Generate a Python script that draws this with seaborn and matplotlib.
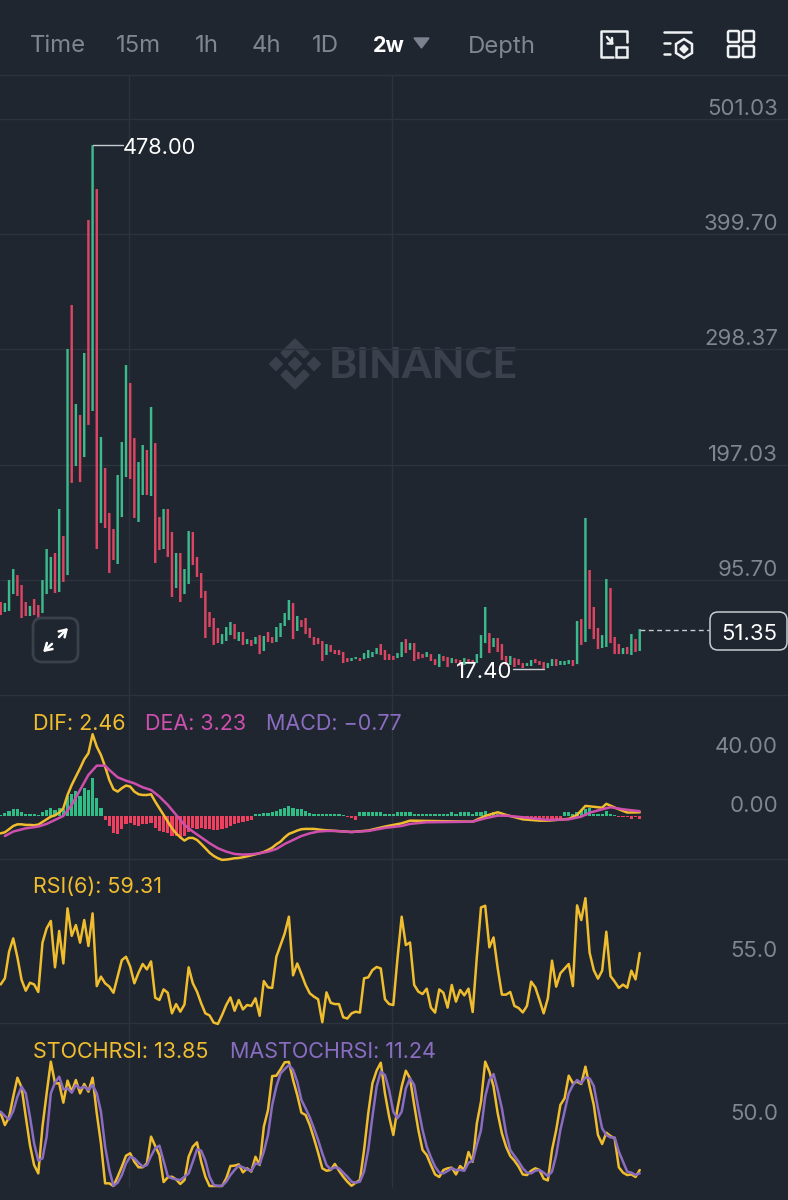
import pandas as pd
import matplotlib.pyplot as plt
import seaborn as sns
from matplotlib.patches import FancyBboxPatch, Polygon, Rectangle

# Candles: top and bottom of each stick
candle_high = [76.2, 75.3, 95.5, 105.2, 99.9, 91.1, 76.2, 72.7, 78.8, 73.5,
               95.5, 122.8, 115.8, 119.3, 158.0, 134.2, 298.7, 337.4, 250.3, 240.7,
               295.2, 412.2, 478.0, 439.4, 221.3, 194.0, 154.5, 140.4, 187.9, 216.9,
               284.6, 268.8, 220.4, 199.3, 214.3, 209.9, 247.7, 216.0, 150.9, 158.0,
               158.0, 137.8, 119.3, 119.3, 105.2, 138.6, 137.8, 115.8, 101.7, 85.9,
               67.4, 62.1, 53.3, 48.0, 54.2, 58.6, 56.8, 49.8, 49.8, 43.6,
               42.8, 45.4, 47.1, 46.3, 49.8, 45.4, 54.2, 57.7, 66.5, 78.0,
               75.3, 63.9, 60.3, 62.1, 53.3, 45.4, 44.5, 41.9, 39.2, 38.4,
               34.0, 34.0, 32.2, 26.9, 26.9, 27.8, 26.9, 31.3, 34.0, 32.2,
               35.7, 39.2, 34.0, 30.4, 28.7, 31.3, 41.0, 43.6, 40.1, 40.1,
               32.2, 30.4, 32.2, 30.4, 26.0, 30.4, 28.7, 27.8, 26.9, 26.0,
               25.2, 26.9, 26.0, 25.2, 30.4, 47.1, 71.8, 48.9, 44.5, 44.5,
               39.2, 28.7, 28.7, 26.9, 26.0, 22.5, 22.5, 25.2, 26.0, 24.3,
               23.4, 22.5, 26.0, 26.0, 24.3, 24.3, 25.2, 25.2, 59.5, 61.2,
               150.1, 104.3, 71.8, 53.3, 47.1, 96.4, 88.5, 45.4, 39.2, 35.7,
               36.6, 48.0, 43.6, 52.4]
candle_low = [64.7, 67.4, 68.3, 83.2, 81.5, 62.1, 63.9, 63.9, 64.7, 62.1,
              66.5, 83.2, 87.6, 84.1, 85.0, 93.8, 99.9, 180.9, 195.8, 181.7,
              203.7, 231.9, 244.2, 122.8, 145.7, 141.3, 101.7, 113.1, 109.6, 150.9,
              186.1, 184.4, 150.1, 146.6, 170.3, 170.3, 169.4, 110.5, 121.9, 122.8,
              115.8, 80.6, 88.5, 76.2, 83.2, 92.0, 108.7, 98.2, 79.7, 44.5,
              54.2, 38.4, 40.1, 39.2, 41.9, 47.1, 43.6, 41.9, 38.4, 39.2,
              37.5, 39.2, 30.4, 33.1, 41.0, 40.1, 41.0, 45.4, 55.1, 60.3,
              43.6, 50.7, 54.2, 48.0, 44.5, 38.4, 39.2, 24.3, 29.6, 32.2,
              30.4, 29.6, 22.5, 23.4, 24.3, 26.0, 24.3, 26.0, 26.9, 27.8,
              30.4, 29.6, 25.2, 25.2, 25.2, 26.9, 27.8, 31.3, 34.0, 24.3,
              26.0, 26.9, 27.8, 24.3, 20.8, 19.0, 24.3, 19.0, 22.5, 22.5,
              19.9, 20.8, 22.5, 22.5, 22.5, 26.9, 40.1, 31.3, 36.6, 32.2,
              25.2, 20.8, 20.8, 19.0, 20.8, 18.1, 19.9, 19.9, 22.5, 20.8,
              17.4, 18.1, 19.9, 19.9, 20.8, 20.8, 21.6, 19.9, 21.6, 38.4,
              41.0, 52.4, 43.6, 34.8, 35.7, 36.6, 40.1, 30.4, 30.4, 30.4,
              30.4, 29.6, 32.2, 33.1]
candle_dir = ("rgggrrrgrr" "gggrgrgrgr" "grgrgrrrgg" "grrggrgrrg" "rrgrggrrrr"
              "rrrgggrgrg" "rgrgrrgggg" "rgrrrrrrgr" "rrrrggrggg" "grrrrggrgr"
              "rrgrrgrrgr" "rgrrgggrgr" "rrgrrrggrr" "rggrgggrgr" "grrrggrrrg"
              "rgrg")
price_ticks = [501.03, 399.70, 298.37, 197.03, 95.70]
price_labels = ["501.03", "399.70", "298.37", "197.03", "95.70"]

# MACD histogram, one bar per candle
macd_hist = [0.6, 1.8, 3.4, 4.5, 4.5, 2.7, 1.1, 1.1, 1.1, 0.7,
             2.7, 4.3, 5.2, 3.8, 5.6, 4.5, 13.6, 14.7, 17.0, 13.6,
             19.2, 17.4, 26.0, 12.0, 5.6, -2.7, -6.8, -11.8, -12.4, -9.0,
             -5.6, -4.5, -6.0, -6.8, -5.6, -5.2, -4.5, -7.9, -10.2, -10.6,
             -11.3, -13.6, -13.6, -14.2, -13.6, -10.6, -8.4, -9.0, -7.9, -9.0,
             -9.0, -9.7, -9.7, -9.0, -7.9, -6.8, -5.6, -4.5, -3.8, -3.4,
             -2.9, 1.1, 1.6, 1.8, 2.3, 2.7, 3.4, 4.5, 5.6, 6.8,
             5.6, 4.5, 4.5, 3.4, 2.3, 1.1, 1.0, 1.0, 1.0, 1.0,
             1.0, 1.0, 0.8, -1.0, -1.4, -2.7, 2.6, 2.6, 2.6, 2.6,
             2.6, 2.6, 1.0, 1.0, 1.0, 2.4, 2.8, 2.8, 2.8, 1.0,
             1.0, 1.0, 1.0, 1.0, 1.0, 1.0, 1.0, 1.0, 2.4, 1.0,
             2.4, 2.4, 2.4, 1.0, 2.4, 2.4, 3.2, 1.0, 2.8, 1.0,
             0.8, -0.6, -0.6, -0.6, -0.6, -0.6, -0.6, -2.6, -3.0, -3.0,
             -1.4, -3.0, -3.0, -3.0, -3.0, 2.4, 2.4, 1.0, 2.8, 3.8,
             4.6, 5.2, 1.6, 1.6, 1.6, 3.2, 1.0, 0.6, -1.0, -1.0,
             -1.0, -2.2, -1.0, -2.2]

dif_idx = list(range(0, 74)) + [75, 77, 84, 88, 92, 96, 98, 113, 116, 119, 121, 125, 129, 131,
                                136, 138, 140, 144, 145, 148, 150, 153]
dif_val = [-11.8, -11.1, -9.0, -6.8, -5.7, -5.7, -6.1, -6.1, -6.3, -5.9,
           -4.1, -2.3, -0.5, 0.4, 2.3, 5.2, 14.2, 21.0, 26.7, 32.3,
           38.4, 42.5, 55.4, 47.0, 41.3, 33.4, 24.4, 18.1, 16.5, 18.8,
           20.6, 19.9, 16.5, 14.7, 14.2, 14.2, 14.7, 9.7, 5.2, 0.7,
           -3.8, -8.4, -11.8, -14.5, -16.7, -14.9, -14.9, -16.3, -19.0, -21.9,
           -24.9, -27.1, -28.7, -29.8, -29.6, -29.2, -28.7, -28.5, -28.0, -27.4,
           -26.7, -26.0, -25.3, -24.4, -23.1, -21.5, -19.2, -17.4, -14.5, -12.2,
           -11.1, -9.9, -9.0, -8.8, -8.8, -9.5, -10.9, -9.9, -7.2, -5.0,
           -3.2, -3.9, 0.0, 2.5, 0.7, -2.3, -3.2, -3.2,
           -2.0, 0.7, 6.8, 5.6, 8.2, 4.5, 2.3, 2.46]
dea_idx = [1, 3, 6, 9, 11, 13, 15, 17, 19, 21, 23, 25, 26, 28, 30, 32, 34, 36, 38, 40,
           42, 44, 46, 48, 50, 52, 54, 56, 58, 60, 62, 64, 66, 68, 70, 72, 74, 76, 78, 80,
           84, 88, 92, 96, 98, 102, 113, 116, 119, 121, 125, 131, 136, 139, 141, 144, 146, 149, 153]
dea_val = [-13.6, -10.6, -8.4, -7.2, -5.4, -2.7, 0.0, 7.5, 17.6, 27.8,
           34.1, 34.1, 31.2, 26.2, 23.9, 22.1, 19.4, 17.6, 13.1, 7.5,
           0.7, -6.1, -10.6, -14.5, -18.5, -21.9, -24.2, -25.8, -26.2, -26.0,
           -25.3, -24.2, -22.4, -19.0, -16.3, -13.6, -11.8, -10.6, -10.2, -10.2,
           -10.9, -10.2, -8.1, -6.8, -5.4, -4.3, -3.9, -1.6, 0.2, 0.2,
           -0.9, -2.7, -2.3, -0.5, 2.2, 4.5, 5.9, 4.5, 3.23]

rsi_val = [42.4, 45.7, 60.0, 67.2, 57.0, 44.8, 39.0, 43.3, 42.4, 38.3,
           64.9, 72.6, 76.6, 51.6, 71.2, 53.7, 83.4, 68.6, 74.4, 64.9,
           77.1, 63.1, 80.7, 41.5, 46.6, 43.0, 41.2, 37.9, 46.6, 55.5,
           57.3, 52.0, 43.0, 48.7, 53.4, 50.5, 54.8, 35.2, 34.0, 39.7,
           37.9, 26.8, 31.8, 27.7, 31.6, 51.6, 43.0, 38.5, 32.2, 26.8,
           25.7, 21.8, 21.1, 25.9, 31.3, 35.4, 28.2, 34.0, 28.9, 31.3,
           30.8, 34.9, 25.5, 44.2, 40.8, 40.5, 57.3, 63.6, 69.9, 78.9,
           47.3, 53.7, 48.0, 42.1, 37.6, 35.8, 34.4, 22.0, 38.1, 32.5,
           31.8, 31.8, 24.7, 24.0, 26.8, 27.7, 27.2, 45.7, 46.2, 50.1,
           51.8, 51.0, 34.4, 31.8, 31.3, 56.4, 78.9, 63.6, 65.0, 42.1,
           38.5, 37.2, 40.1, 29.9, 27.2, 39.7, 37.9, 29.9, 42.1, 33.1,
           39.4, 36.5, 40.1, 27.5, 57.3, 83.9, 84.8, 62.4, 67.7, 51.0,
           36.9, 36.9, 38.3, 30.8, 29.7, 27.3, 30.8, 43.9, 40.8, 34.0,
           26.8, 34.9, 55.2, 41.2, 48.4, 50.9, 53.4, 41.5, 85.0, 77.1,
           88.9, 59.5, 50.1, 45.5, 49.8, 70.8, 46.9, 43.9, 40.5, 42.3,
           40.6, 49.8, 45.1, 59.31]

stoch_val = [58.4, 49.2, 55.3, 71.5, 86.4, 78.8, 55.8, 33.5, 17.8, 11.2,
             47.9, 74.1, 99.0, 82.0, 82.0, 66.8, 84.1, 75.4, 84.6, 74.1,
             81.5, 75.4, 86.4, 58.4, 34.8, 3.4, 3.4, 1.3, 8.6, 16.5,
             25.1, 27.0, 20.4, 16.0, 16.0, 19.1, 40.1, 32.7, 25.6, 4.4,
             8.1, 8.6, 6.5, 2.9, 6.0, 24.3, 32.2, 35.6, 20.4, 8.6,
             1.3, 1.3, 1.3, 1.3, 7.3, 17.0, 17.3, 18.3, 12.0, 15.2,
             12.6, 24.3, 17.8, 47.9, 61.0, 87.7, 88.0, 93.0, 98.5, 98.8,
             84.6, 72.8, 58.9, 57.1, 49.2, 38.7, 27.5, 15.2, 13.3, 13.9,
             18.6, 13.3, 8.6, 4.7, 1.5, 3.9, 6.0, 29.6, 58.4, 82.0,
             91.9, 98.2, 74.1, 55.8, 41.4, 62.3, 79.4, 91.9, 85.9, 65.0,
             45.3, 29.6, 25.6, 17.8, 10.4, 8.4, 13.9, 15.2, 15.7, 10.4,
             17.0, 13.9, 28.0, 20.4, 50.5, 67.6, 99.0, 91.2, 79.4, 58.4,
             42.7, 32.2, 24.9, 21.2, 16.5, 10.4, 9.9, 13.3, 15.2, 13.9,
             7.0, 5.7, 29.6, 45.3, 65.0, 70.2, 88.0, 82.0, 83.3, 81.5,
             95.1, 79.4, 65.0, 41.4, 34.3, 43.2, 40.6, 38.7, 16.0, 11.8,
             9.9, 10.4, 8.4, 13.85]
mastoch_val = [59.7, 56.3, 53.7, 60.2, 71.5, 79.4, 74.1, 55.8, 34.8, 21.2,
               23.0, 40.1, 74.1, 82.5, 87.2, 77.3, 78.0, 74.6, 80.7, 78.0,
               79.4, 76.7, 80.7, 74.1, 59.7, 32.2, 13.9, 1.5, 3.9, 9.9,
               19.1, 24.3, 23.0, 19.6, 16.5, 17.8, 24.9, 30.9, 33.0, 21.2,
               9.1, 7.3, 6.5, 6.0, 8.6, 11.2, 20.4, 30.1, 29.1, 21.2,
               8.6, 2.1, 1.3, 1.5, 4.7, 9.9, 13.9, 17.3, 16.0, 14.4,
               13.1, 19.1, 18.3, 28.3, 41.4, 65.0, 79.4, 89.8, 93.2, 96.4,
               92.5, 83.3, 68.9, 62.3, 55.3, 46.6, 37.4, 27.0, 17.8, 14.4,
               16.0, 15.2, 11.8, 8.6, 4.7, 3.9, 4.7, 12.6, 29.6, 55.8,
               79.4, 91.2, 88.5, 76.7, 59.7, 54.5, 59.7, 78.0, 85.9, 80.7,
               62.3, 45.3, 32.2, 23.8, 16.5, 11.8, 11.2, 13.1, 15.2, 13.9,
               13.9, 13.3, 19.6, 21.2, 33.5, 45.3, 71.5, 84.6, 89.3, 76.7,
               62.3, 42.7, 29.6, 24.9, 20.4, 15.2, 11.8, 11.2, 13.3, 13.9,
               11.8, 9.1, 12.6, 25.6, 45.3, 59.7, 74.1, 80.7, 84.6, 82.0,
               86.7, 85.9, 79.9, 62.3, 46.6, 41.4, 39.5, 39.5, 28.3, 20.4,
               12.6, 11.8, 9.9, 11.24]

tabs = ["Time", "15m", "1h", "4h", "1D", "2w", "Depth"]
tab_x = [30, 116, 195, 252, 312, 373, 468]

BG = "#1f2630"
GRID = "#2c333e"
GREY = "#7f8690"
GREEN = "#3cba8c"
RED = "#dc4562"
HIST_GREEN = "#2ebd85"
HIST_RED = "#f0405f"
YELLOW = "#f0bd2e"
PINK = "#cf4fae"
PURPLE = "#8a6cc0"

sns.set_theme(style="dark", rc={"axes.facecolor": BG, "figure.facecolor": BG})
plt.rcParams['font.family'] = ['Inter', 'DejaVu Sans']

W, H = 788, 1200
fig = plt.figure(figsize=(W / 100, H / 100), dpi=100)


# Axes covering a band of the figure, given in pixels from the top
def panel(top, bottom, ylim, z=5):
    ax = fig.add_axes([0, 1 - bottom / H, 1, (bottom - top) / H], zorder=z)
    ax.set_xlim(-0.168, 188.5)
    ax.set_ylim(*ylim)
    ax.patch.set_alpha(0)
    ax.set_xticks([])
    ax.set_yticks([])
    ax.grid(False)
    for s in ax.spines.values():
        s.set_visible(False)
    return ax


def finish(ax, xlim=(-0.168, 188.5)):
    ax.set(xlabel='', ylabel='')
    ax.set_xlim(*xlim)
    ax.set_xticks([])
    ax.tick_params(length=0, labelleft=False, labelbottom=False)
    ax.grid(False)


def tick_label(ax, value, label):
    ax.annotate(label, xy=(1, value), xycoords=ax.get_yaxis_transform(), xytext=(-10, 12),
                textcoords='offset pixels', ha='right', va='center_baseline', color=GREY, fontsize=16)


# Background layer: frame lines and watermark
bg = fig.add_axes([0, 0, 1, 1], zorder=0)
bg.set_xlim(0, W)
bg.set_ylim(H, 0)
bg.axis('off')
for y in [75, 695, 859, 1023]:
    bg.plot([0, W], [y, y], color=GRID, lw=1)
for x in [129.5, 392.5]:
    bg.plot([x, x], [75, 1187], color=GRID, lw=1)

wm = "#3a414c"
bg.text(329, 366, "BINANCE", color=wm, fontsize=30.5, fontweight='black', family='Lato', va='center', ha='left')
for cx, cy, r in [(295, 364, 6.5), (276, 364, 6.5), (314, 364, 6.5)]:
    bg.add_patch(Polygon([(cx - r, cy), (cx, cy - r), (cx + r, cy), (cx, cy + r)], color=wm))
bg.add_patch(Polygon([(295, 339), (309, 353), (304, 358), (295, 349), (286, 358), (281, 353)], color=wm))
bg.add_patch(Polygon([(295, 389), (309, 375), (304, 370), (295, 379), (286, 370), (281, 375)], color=wm))

# Price panel
price_ax = panel(75, 695, (-5.6, 539.7))
candles = pd.DataFrame({
    'i': list(range(len(candle_high))) * 2,
    'price': candle_high + candle_low,
    'dir': list(candle_dir) * 2,
})
sns.lineplot(data=candles, x='i', y='price', units='i', estimator=None, hue='dir',
             palette={'g': GREEN, 'r': RED}, linewidth=1.75, legend=False,
             solid_capstyle='butt', snap=False, ax=price_ax)
finish(price_ax)
price_ax.set_yticks(price_ticks)
price_ax.grid(axis='y', color=GRID, lw=1)
price_ax.set_axisbelow(True)
for v, lab in zip(price_ticks, price_labels):
    tick_label(price_ax, v, lab)

# High, low and last price markers
high_i = candle_high.index(max(candle_high))
low_i = candle_low.index(min(candle_low))
price_ax.plot([high_i, high_i + 7.4], [478.0, 478.0], color="#c9ccd1", lw=1)
price_ax.text(high_i + 7.2, 477.0, "478.00", color="white", fontsize=15.7, va='center_baseline', ha='left')
price_ax.plot([low_i - 7.4, low_i], [17.4, 17.4], color="#c9ccd1", lw=1)
price_ax.text(low_i - 7.4, 16.6, "17.40", color="white", fontsize=16, va='center_baseline', ha='right')
price_ax.plot([153, 169.7], [51.35, 51.35], color="#c9ccd1", lw=1, dashes=(3.5, 2.5))

# MACD panel
macd_ax = panel(695, 859, (-29.2, 82.0))
hist = pd.DataFrame({'i': list(range(len(macd_hist))), 'v': macd_hist})
hist['side'] = ['up' if v >= 0 else 'down' for v in macd_hist]
sns.barplot(data=hist, x='i', y='v', hue='side', palette={'up': HIST_GREEN, 'down': HIST_RED},
            native_scale=True, dodge=False, width=0.76, errorbar=None, saturation=1,
            linewidth=0, legend=False, ax=macd_ax)
sns.lineplot(x=dif_idx, y=dif_val, color=YELLOW, linewidth=1.8, clip_on=False, ax=macd_ax)
sns.lineplot(x=dea_idx, y=dea_val, color=PINK, linewidth=1.8, clip_on=False, ax=macd_ax)
finish(macd_ax)
macd_ax.set_ylim(-29.2, 82.0)
tick_label(macd_ax, 40, "40.00")
tick_label(macd_ax, 0, "0.00")

# RSI panel
rsi_ax = panel(859, 1023, (21.6, 110.0))
idx = list(range(len(rsi_val)))
sns.lineplot(x=idx, y=rsi_val, color=YELLOW, linewidth=1.8, clip_on=False, ax=rsi_ax)
finish(rsi_ax)
tick_label(rsi_ax, 55, "55.0")

# StochRSI panel
stoch_ax = panel(1023, 1200, (-9.7, 129.4))
sns.lineplot(x=idx, y=stoch_val, color=YELLOW, linewidth=1.8, ax=stoch_ax)
sns.lineplot(x=idx, y=mastoch_val, color=PURPLE, linewidth=1.8, ax=stoch_ax)
finish(stoch_ax)
tick_label(stoch_ax, 50, "50.0")

# Top layer: tabs, icons, legends and the last price tag
ui = fig.add_axes([0, 0, 1, 1], zorder=10)
ui.set_xlim(0, W)
ui.set_ylim(H, 0)
ui.axis('off')
ui.patch.set_alpha(0)

for x, t in zip(tab_x, tabs):
    active = t == "2w"
    ui.text(x, 44, t, color="white" if active else GREY, fontsize=15.5 if active else 17.2,
            fontweight='bold' if active else 'normal', va='center_baseline', ha='left')
ui.add_patch(Polygon([(414, 38), (429, 38), (421.5, 48)], color="#7b8290"))

for x, t, c in [(33, "DIF: 2.46", YELLOW), (145, "DEA: 3.23", PINK), (266, "MACD: \u22120.77", PURPLE)]:
    ui.text(x, 722, t, color=c, fontsize=15.5, va='center_baseline', ha='left')
ui.text(33, 885, "RSI(6): 59.31", color=YELLOW, fontsize=15.5, va='center_baseline', ha='left')
ui.text(33, 1050, "STOCHRSI: 13.85", color=YELLOW, fontsize=15.5, va='center_baseline', ha='left')
ui.text(230, 1050, "MASTOCHRSI: 11.24", color=PURPLE, fontsize=15.5, va='center_baseline', ha='left')

# Last price tag
ui.add_patch(FancyBboxPatch((714, 616), 69, 30, boxstyle="round,pad=4,rounding_size=8",
                            fc=BG, ec="#c8ccd2", lw=1.1))
ui.text(749, 632, "51.35", color="white", fontsize=16, va='center_baseline', ha='center')

# Expand button
ui.add_patch(FancyBboxPatch((39, 624), 33, 32, boxstyle="round,pad=6,rounding_size=9",
                            fc=BG, ec="#3a414c", lw=2))
ui.annotate("", xy=(70, 626), xytext=(57, 639),
            arrowprops=dict(arrowstyle="->,head_width=0.25,head_length=0.4", color="white", lw=1.8))
ui.annotate("", xy=(41, 654), xytext=(54, 642),
            arrowprops=dict(arrowstyle="->,head_width=0.25,head_length=0.4", color="white", lw=1.8))

# Header icons
white = dict(color="#eef0f2", lw=1.8, solid_capstyle='round')
ui.plot([627, 627, 601, 601, 613], [42, 31, 31, 57, 57], **white)
ui.add_patch(Rectangle((616, 47), 11, 10, fc='none', ec="#eef0f2", lw=1.8))
ui.plot([607, 612, 612], [37, 43, 38], **white)
ui.plot([607, 612], [43, 43], **white)
ui.plot([664, 691], [32, 32], **white)
ui.plot([664, 670], [43, 43], **white)
ui.plot([664, 670], [54, 54], **white)
ui.add_patch(Polygon([(684, 39), (692, 44), (692, 53), (684, 58), (676, 53), (676, 44)],
                     fc='none', ec="#eef0f2", lw=1.8))
ui.add_patch(Polygon([(684, 45), (688, 49), (684, 53), (680, 49)], color="#eef0f2"))
for x in [728, 743]:
    for y in [31, 46]:
        ui.add_patch(FancyBboxPatch((x + 1, y + 1), 9, 9, boxstyle="round,pad=1,rounding_size=1.5",
                                    fc='none', ec="#eef0f2", lw=1.8))

plt.savefig("out.png", dpi=100, facecolor=BG)
